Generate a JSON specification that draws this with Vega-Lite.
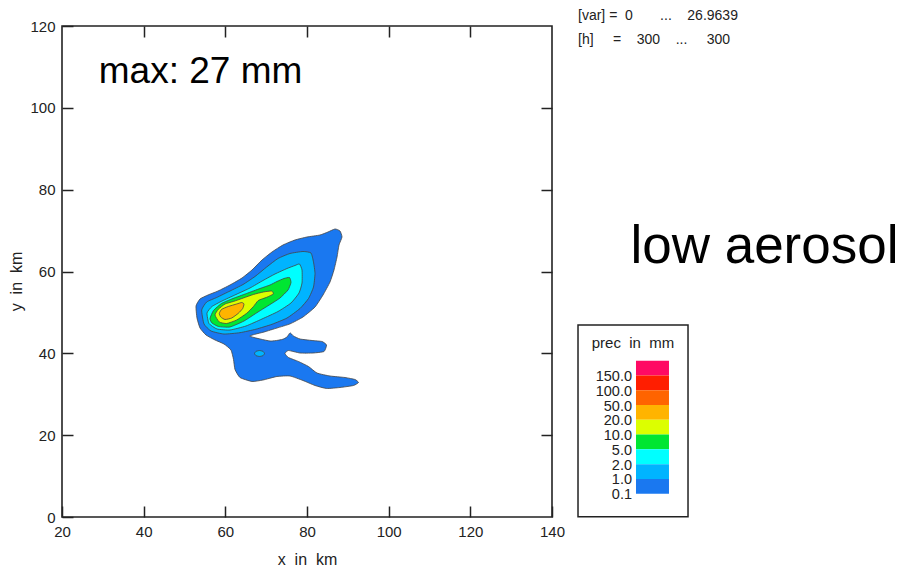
{
  "$schema": "https://vega.github.io/schema/vega-lite/v6.json",
  "width": 490,
  "height": 491,
  "autosize": {"type": "none"},
  "padding": {"left": 62, "top": 26, "right": 350, "bottom": 54},
  "background": "white",
  "config": {
    "view": {"stroke": "#222", "strokeWidth": 1.6},
    "axis": {
      "domain": false, "grid": false, "labelFlush": false, "labelOverlap": false,
      "labelFont": "Liberation Sans", "labelFontSize": 15, "labelColor": "#222",
      "titleFont": "Liberation Sans", "titleFontSize": 16, "titleFontWeight": "normal", "titleColor": "#222",
      "tickColor": "#222", "tickWidth": 1.5, "tickSize": -11
    },
    "text": {"font": "Liberation Sans", "color": "#111"}
  },
  "datasets": {
    "contours": [
      {"poly":"a","level":"0.1","i":0,"x":52.82,"y":51.57},
      {"poly":"a","level":"0.1","i":1,"x":53.80,"y":53.28},
      {"poly":"a","level":"0.1","i":2,"x":55.76,"y":54.26},
      {"poly":"a","level":"0.1","i":3,"x":58.20,"y":55.23},
      {"poly":"a","level":"0.1","i":4,"x":61.14,"y":56.70},
      {"poly":"a","level":"0.1","i":5,"x":64.08,"y":58.41},
      {"poly":"a","level":"0.1","i":6,"x":66.53,"y":60.37},
      {"poly":"a","level":"0.1","i":7,"x":68.98,"y":62.81},
      {"poly":"a","level":"0.1","i":8,"x":71.43,"y":64.77},
      {"poly":"a","level":"0.1","i":9,"x":74.12,"y":66.48},
      {"poly":"a","level":"0.1","i":10,"x":77.06,"y":67.70},
      {"poly":"a","level":"0.1","i":11,"x":80.00,"y":68.43},
      {"poly":"a","level":"0.1","i":12,"x":83.18,"y":68.92},
      {"poly":"a","level":"0.1","i":13,"x":85.14,"y":69.65},
      {"poly":"a","level":"0.1","i":14,"x":86.86,"y":70.39},
      {"poly":"a","level":"0.1","i":15,"x":88.08,"y":69.90},
      {"poly":"a","level":"0.1","i":16,"x":88.57,"y":68.43},
      {"poly":"a","level":"0.1","i":17,"x":87.84,"y":66.48},
      {"poly":"a","level":"0.1","i":18,"x":87.35,"y":63.54},
      {"poly":"a","level":"0.1","i":19,"x":86.61,"y":60.37},
      {"poly":"a","level":"0.1","i":20,"x":85.63,"y":57.43},
      {"poly":"a","level":"0.1","i":21,"x":83.92,"y":54.26},
      {"poly":"a","level":"0.1","i":22,"x":81.96,"y":51.32},
      {"poly":"a","level":"0.1","i":23,"x":79.02,"y":48.88},
      {"poly":"a","level":"0.1","i":24,"x":75.84,"y":47.20},
      {"poly":"a","level":"0.1","i":25,"x":72.65,"y":46.19},
      {"poly":"a","level":"0.1","i":26,"x":69.47,"y":45.21},
      {"poly":"a","level":"0.1","i":27,"x":66.00,"y":44.20},
      {"poly":"a","level":"0.1","i":28,"x":70.94,"y":43.01},
      {"poly":"a","level":"0.1","i":29,"x":73.88,"y":43.38},
      {"poly":"a","level":"0.1","i":30,"x":75.10,"y":43.99},
      {"poly":"a","level":"0.1","i":31,"x":75.84,"y":45.00},
      {"poly":"a","level":"0.1","i":32,"x":76.69,"y":44.24},
      {"poly":"a","level":"0.1","i":33,"x":78.29,"y":43.50},
      {"poly":"a","level":"0.1","i":34,"x":81.22,"y":43.14},
      {"poly":"a","level":"0.1","i":35,"x":83.67,"y":42.89},
      {"poly":"a","level":"0.1","i":36,"x":84.78,"y":42.04},
      {"poly":"a","level":"0.1","i":37,"x":84.16,"y":40.45},
      {"poly":"a","level":"0.1","i":38,"x":81.47,"y":40.08},
      {"poly":"a","level":"0.1","i":39,"x":78.29,"y":40.08},
      {"poly":"a","level":"0.1","i":40,"x":75.47,"y":40.69},
      {"poly":"a","level":"0.1","i":41,"x":74.61,"y":39.96},
      {"poly":"a","level":"0.1","i":42,"x":75.47,"y":38.98},
      {"poly":"a","level":"0.1","i":43,"x":77.92,"y":38.00},
      {"poly":"a","level":"0.1","i":44,"x":80.37,"y":36.78},
      {"poly":"a","level":"0.1","i":45,"x":82.45,"y":35.19},
      {"poly":"a","level":"0.1","i":46,"x":85.63,"y":34.46},
      {"poly":"a","level":"0.1","i":47,"x":89.31,"y":34.09},
      {"poly":"a","level":"0.1","i":48,"x":91.76,"y":33.60},
      {"poly":"a","level":"0.1","i":49,"x":92.61,"y":32.87},
      {"poly":"a","level":"0.1","i":50,"x":91.39,"y":32.14},
      {"poly":"a","level":"0.1","i":51,"x":88.08,"y":31.65},
      {"poly":"a","level":"0.1","i":52,"x":84.78,"y":31.41},
      {"poly":"a","level":"0.1","i":53,"x":81.96,"y":32.14},
      {"poly":"a","level":"0.1","i":54,"x":79.02,"y":33.36},
      {"poly":"a","level":"0.1","i":55,"x":75.84,"y":34.46},
      {"poly":"a","level":"0.1","i":56,"x":72.65,"y":34.34},
      {"poly":"a","level":"0.1","i":57,"x":69.22,"y":33.48},
      {"poly":"a","level":"0.1","i":58,"x":66.53,"y":33.12},
      {"poly":"a","level":"0.1","i":59,"x":63.59,"y":34.09},
      {"poly":"a","level":"0.1","i":60,"x":62.37,"y":36.05},
      {"poly":"a","level":"0.1","i":61,"x":62.00,"y":38.49},
      {"poly":"a","level":"0.1","i":62,"x":61.39,"y":40.81},
      {"poly":"a","level":"0.1","i":63,"x":59.67,"y":42.28},
      {"poly":"a","level":"0.1","i":64,"x":57.47,"y":43.26},
      {"poly":"a","level":"0.1","i":65,"x":55.27,"y":44.48},
      {"poly":"a","level":"0.1","i":66,"x":53.80,"y":46.19},
      {"poly":"a","level":"0.1","i":67,"x":53.06,"y":48.63},

      {"poly":"dot","level":"1.0","i":0,"x":69.59,"y":39.96},
      {"poly":"dot","level":"1.0","i":1,"x":69.23,"y":40.48},
      {"poly":"dot","level":"1.0","i":2,"x":68.37,"y":40.69},
      {"poly":"dot","level":"1.0","i":3,"x":67.51,"y":40.48},
      {"poly":"dot","level":"1.0","i":4,"x":67.15,"y":39.96},
      {"poly":"dot","level":"1.0","i":5,"x":67.51,"y":39.44},
      {"poly":"dot","level":"1.0","i":6,"x":68.37,"y":39.23},
      {"poly":"dot","level":"1.0","i":7,"x":69.23,"y":39.44},

      {"poly":"b","level":"1.0","i":0,"x":54.21,"y":50.59},
      {"poly":"b","level":"1.0","i":1,"x":55.44,"y":52.55},
      {"poly":"b","level":"1.0","i":2,"x":57.89,"y":53.65},
      {"poly":"b","level":"1.0","i":3,"x":61.14,"y":55.23},
      {"poly":"b","level":"1.0","i":4,"x":64.33,"y":56.82},
      {"poly":"b","level":"1.0","i":5,"x":67.27,"y":58.78},
      {"poly":"b","level":"1.0","i":6,"x":70.13,"y":61.10},
      {"poly":"b","level":"1.0","i":7,"x":72.90,"y":63.18},
      {"poly":"b","level":"1.0","i":8,"x":75.84,"y":64.40},
      {"poly":"b","level":"1.0","i":9,"x":79.02,"y":64.89},
      {"poly":"b","level":"1.0","i":10,"x":80.98,"y":64.52},
      {"poly":"b","level":"1.0","i":11,"x":81.59,"y":62.32},
      {"poly":"b","level":"1.0","i":12,"x":81.96,"y":59.51},
      {"poly":"b","level":"1.0","i":13,"x":81.59,"y":56.21},
      {"poly":"b","level":"1.0","i":14,"x":80.37,"y":53.40},
      {"poly":"b","level":"1.0","i":15,"x":78.29,"y":50.96},
      {"poly":"b","level":"1.0","i":16,"x":75.10,"y":48.63},
      {"poly":"b","level":"1.0","i":17,"x":71.43,"y":47.10},
      {"poly":"b","level":"1.0","i":18,"x":67.51,"y":45.90},
      {"poly":"b","level":"1.0","i":19,"x":63.59,"y":45.05},
      {"poly":"b","level":"1.0","i":20,"x":59.67,"y":44.72},
      {"poly":"b","level":"1.0","i":21,"x":56.49,"y":45.46},
      {"poly":"b","level":"1.0","i":22,"x":54.78,"y":47.17},

      {"poly":"c","level":"2.0","i":0,"x":55.51,"y":49.86},
      {"poly":"c","level":"2.0","i":1,"x":56.73,"y":51.45},
      {"poly":"c","level":"2.0","i":2,"x":59.18,"y":52.79},
      {"poly":"c","level":"2.0","i":3,"x":62.61,"y":54.38},
      {"poly":"c","level":"2.0","i":4,"x":66.04,"y":55.97},
      {"poly":"c","level":"2.0","i":5,"x":69.22,"y":57.80},
      {"poly":"c","level":"2.0","i":6,"x":72.16,"y":59.39},
      {"poly":"c","level":"2.0","i":7,"x":75.10,"y":60.73},
      {"poly":"c","level":"2.0","i":8,"x":77.06,"y":61.47},
      {"poly":"c","level":"2.0","i":9,"x":78.16,"y":61.83},
      {"poly":"c","level":"2.0","i":10,"x":78.78,"y":60.37},
      {"poly":"c","level":"2.0","i":11,"x":78.78,"y":57.19},
      {"poly":"c","level":"2.0","i":12,"x":78.04,"y":54.74},
      {"poly":"c","level":"2.0","i":13,"x":76.08,"y":52.30},
      {"poly":"c","level":"2.0","i":14,"x":72.90,"y":50.22},
      {"poly":"c","level":"2.0","i":15,"x":68.98,"y":48.39},
      {"poly":"c","level":"2.0","i":16,"x":65.06,"y":46.68},
      {"poly":"c","level":"2.0","i":17,"x":61.14,"y":45.70},
      {"poly":"c","level":"2.0","i":18,"x":57.96,"y":45.95},
      {"poly":"c","level":"2.0","i":19,"x":56.00,"y":47.29},

      {"poly":"d","level":"5.0","i":0,"x":56.24,"y":48.51},
      {"poly":"d","level":"5.0","i":1,"x":57.10,"y":50.47},
      {"poly":"d","level":"5.0","i":2,"x":59.06,"y":52.18},
      {"poly":"d","level":"5.0","i":3,"x":61.88,"y":53.40},
      {"poly":"d","level":"5.0","i":4,"x":65.18,"y":54.62},
      {"poly":"d","level":"5.0","i":5,"x":68.49,"y":55.84},
      {"poly":"d","level":"5.0","i":6,"x":70.94,"y":56.70},
      {"poly":"d","level":"5.0","i":7,"x":72.65,"y":57.56},
      {"poly":"d","level":"5.0","i":8,"x":74.37,"y":58.29},
      {"poly":"d","level":"5.0","i":9,"x":75.71,"y":58.53},
      {"poly":"d","level":"5.0","i":10,"x":76.08,"y":57.31},
      {"poly":"d","level":"5.0","i":11,"x":75.35,"y":55.48},
      {"poly":"d","level":"5.0","i":12,"x":73.39,"y":53.52},
      {"poly":"d","level":"5.0","i":13,"x":70.94,"y":51.93},
      {"poly":"d","level":"5.0","i":14,"x":68.00,"y":50.10},
      {"poly":"d","level":"5.0","i":15,"x":64.57,"y":47.90},
      {"poly":"d","level":"5.0","i":16,"x":61.14,"y":46.44},
      {"poly":"d","level":"5.0","i":17,"x":58.33,"y":46.56},
      {"poly":"d","level":"5.0","i":18,"x":56.73,"y":47.41},

      {"poly":"e","level":"10.0","i":0,"x":57.47,"y":49.37},
      {"poly":"e","level":"10.0","i":1,"x":58.28,"y":50.76},
      {"poly":"e","level":"10.0","i":2,"x":59.92,"y":52.06},
      {"poly":"e","level":"10.0","i":3,"x":61.95,"y":52.67},
      {"poly":"e","level":"10.0","i":4,"x":64.40,"y":53.52},
      {"poly":"e","level":"10.0","i":5,"x":66.85,"y":54.38},
      {"poly":"e","level":"10.0","i":6,"x":69.30,"y":54.99},
      {"poly":"e","level":"10.0","i":7,"x":71.36,"y":55.23},
      {"poly":"e","level":"10.0","i":8,"x":71.75,"y":54.50},
      {"poly":"e","level":"10.0","i":9,"x":70.13,"y":53.69},
      {"poly":"e","level":"10.0","i":10,"x":68.07,"y":52.91},
      {"poly":"e","level":"10.0","i":11,"x":66.85,"y":51.40},
      {"poly":"e","level":"10.0","i":12,"x":65.23,"y":49.78},
      {"poly":"e","level":"10.0","i":13,"x":62.78,"y":48.15},
      {"poly":"e","level":"10.0","i":14,"x":60.33,"y":47.29},
      {"poly":"e","level":"10.0","i":15,"x":58.52,"y":47.66},

      {"poly":"f","level":"20.0","i":0,"x":58.52,"y":49.78},
      {"poly":"f","level":"20.0","i":1,"x":59.11,"y":50.76},
      {"poly":"f","level":"20.0","i":2,"x":60.73,"y":51.45},
      {"poly":"f","level":"20.0","i":3,"x":62.78,"y":52.06},
      {"poly":"f","level":"20.0","i":4,"x":64.01,"y":52.42},
      {"poly":"f","level":"20.0","i":5,"x":64.57,"y":52.06},
      {"poly":"f","level":"20.0","i":6,"x":64.25,"y":50.96},
      {"poly":"f","level":"20.0","i":7,"x":63.18,"y":49.78},
      {"poly":"f","level":"20.0","i":8,"x":61.56,"y":48.63},
      {"poly":"f","level":"20.0","i":9,"x":59.92,"y":48.27},
      {"poly":"f","level":"20.0","i":10,"x":58.87,"y":48.88}
    ],
    "legend": [
      {"level":"150.0"},{"level":"100.0"},{"level":"50.0"},{"level":"20.0"},{"level":"10.0"},
      {"level":"5.0"},{"level":"2.0"},{"level":"1.0"},{"level":"0.1"}
    ]
  },
  "resolve": {"scale": {"x": "independent", "y": "independent"}},
  "layer": [
    {
      "data": {"name": "contours"},
      "transform": [{"filter": "datum.level === '0.1'"}],
      "mark": {"type": "line", "interpolate": "cardinal-closed", "tension": 0.5, "stroke": "#444", "strokeWidth": 0.8},
      "encoding": {
        "x": {"field": "x", "type": "quantitative", "scale": {"domain": [20, 140], "nice": false, "zero": false},
              "axis": {"orient": "bottom", "values": [20, 40, 60, 80, 100, 120, 140], "title": "x\u00a0\u00a0in\u00a0\u00a0km", "labelPadding": 18, "titlePadding": 12}},
        "y": {"field": "y", "type": "quantitative", "scale": {"domain": [0, 120], "nice": false, "zero": false},
              "axis": {"orient": "left", "values": [0, 20, 40, 60, 80, 100, 120], "title": "y\u00a0\u00a0in\u00a0\u00a0km", "labelPadding": 18, "titlePadding": 5, "titleY": 255}},
        "detail": {"field": "poly"},
        "order": {"field": "i", "type": "quantitative"},
        "fill": {"field": "level", "type": "ordinal", "legend": null,
                 "scale": {"domain": ["0.1","1.0","2.0","5.0","10.0","20.0","50.0","100.0","150.0"],
                           "range": ["#1a78f0","#00b4ff","#00ffff","#00e632","#dcff00","#ffb400","#ff6400","#ff1e00","#ff0a64"]}}
      }
    },
    {
      "data": {"name": "contours"},
      "transform": [{"filter": "datum.level === '1.0'"}],
      "mark": {"type": "line", "interpolate": "cardinal-closed", "tension": 0.5, "stroke": "#444", "strokeWidth": 0.8},
      "encoding": {
        "x": {"field": "x", "type": "quantitative", "scale": {"domain": [20, 140], "nice": false, "zero": false},
              "axis": {"orient": "top", "values": [40, 60, 80, 100, 120], "labels": false, "title": null}},
        "y": {"field": "y", "type": "quantitative", "scale": {"domain": [0, 120], "nice": false, "zero": false},
              "axis": {"orient": "right", "values": [20, 40, 60, 80, 100], "labels": false, "title": null}},
        "detail": {"field": "poly"},
        "order": {"field": "i", "type": "quantitative"},
        "fill": {"field": "level", "type": "ordinal", "legend": null}
      }
    },
    {
      "data": {"name": "contours"},
      "transform": [{"filter": "datum.level === '2.0'"}],
      "mark": {"type": "line", "interpolate": "cardinal-closed", "tension": 0.5, "stroke": "#444", "strokeWidth": 0.8},
      "encoding": {
        "x": {"field": "x", "type": "quantitative", "scale": {"domain": [20, 140], "nice": false, "zero": false}, "axis": null},
        "y": {"field": "y", "type": "quantitative", "scale": {"domain": [0, 120], "nice": false, "zero": false}, "axis": null},
        "detail": {"field": "poly"},
        "order": {"field": "i", "type": "quantitative"},
        "fill": {"field": "level", "type": "ordinal", "legend": null}
      }
    },
    {
      "data": {"name": "contours"},
      "transform": [{"filter": "datum.level === '5.0'"}],
      "mark": {"type": "line", "interpolate": "cardinal-closed", "tension": 0.5, "stroke": "#444", "strokeWidth": 0.8},
      "encoding": {
        "x": {"field": "x", "type": "quantitative", "scale": {"domain": [20, 140], "nice": false, "zero": false}, "axis": null},
        "y": {"field": "y", "type": "quantitative", "scale": {"domain": [0, 120], "nice": false, "zero": false}, "axis": null},
        "detail": {"field": "poly"},
        "order": {"field": "i", "type": "quantitative"},
        "fill": {"field": "level", "type": "ordinal", "legend": null}
      }
    },
    {
      "data": {"name": "contours"},
      "transform": [{"filter": "datum.level === '10.0'"}],
      "mark": {"type": "line", "interpolate": "cardinal-closed", "tension": 0.5, "stroke": "#444", "strokeWidth": 0.8},
      "encoding": {
        "x": {"field": "x", "type": "quantitative", "scale": {"domain": [20, 140], "nice": false, "zero": false}, "axis": null},
        "y": {"field": "y", "type": "quantitative", "scale": {"domain": [0, 120], "nice": false, "zero": false}, "axis": null},
        "detail": {"field": "poly"},
        "order": {"field": "i", "type": "quantitative"},
        "fill": {"field": "level", "type": "ordinal", "legend": null}
      }
    },
    {
      "data": {"name": "contours"},
      "transform": [{"filter": "datum.level === '20.0'"}],
      "mark": {"type": "line", "interpolate": "cardinal-closed", "tension": 0.5, "stroke": "#444", "strokeWidth": 0.8},
      "encoding": {
        "x": {"field": "x", "type": "quantitative", "scale": {"domain": [20, 140], "nice": false, "zero": false}, "axis": null},
        "y": {"field": "y", "type": "quantitative", "scale": {"domain": [0, 120], "nice": false, "zero": false}, "axis": null},
        "detail": {"field": "poly"},
        "order": {"field": "i", "type": "quantitative"},
        "fill": {"field": "level", "type": "ordinal", "legend": null}
      }
    },
    {
      "data": {"values": [{}]},
      "mark": {"type": "rect", "fill": "white", "stroke": "#222", "strokeWidth": 1.5},
      "encoding": {
        "x": {"datum": 146.37, "type": "quantitative", "scale": {"domain": [20, 140], "nice": false, "zero": false}, "axis": null},
        "x2": {"datum": 173.31},
        "y": {"datum": 46.92, "type": "quantitative", "scale": {"domain": [0, 120], "nice": false, "zero": false}, "axis": null},
        "y2": {"datum": 0.07}
      }
    },
    {
      "data": {"name": "legend"},
      "mark": {"type": "rect"},
      "encoding": {
        "x": {"datum": 160.57, "type": "quantitative", "scale": {"domain": [20, 140], "nice": false, "zero": false}, "axis": null},
        "x2": {"datum": 168.65},
        "y": {"field": "level", "type": "ordinal", "sort": null, "axis": null,
              "scale": {"type": "band", "range": [334.7, 467.7], "paddingInner": 0, "paddingOuter": 0}},
        "fill": {"field": "level", "type": "ordinal", "legend": null}
      }
    },
    {
      "data": {"name": "legend"},
      "mark": {"type": "text", "align": "right", "baseline": "middle", "fontSize": 14.5, "color": "#222"},
      "encoding": {
        "x": {"datum": 159.59, "type": "quantitative", "scale": {"domain": [20, 140], "nice": false, "zero": false}, "axis": null},
        "y": {"field": "level", "type": "ordinal", "sort": null, "axis": null,
              "scale": {"type": "point", "range": [351, 469], "padding": 0}},
        "text": {"field": "level"}
      }
    },
    {
      "data": {"values": [{}]},
      "mark": {"type": "text", "text": "prec\u00a0\u00a0in\u00a0\u00a0mm", "align": "center", "baseline": "middle", "fontSize": 15, "color": "#222"},
      "encoding": {
        "x": {"datum": 159.84, "type": "quantitative", "scale": {"domain": [20, 140], "nice": false, "zero": false}, "axis": null},
        "y": {"datum": 42.53, "type": "quantitative", "scale": {"domain": [0, 120], "nice": false, "zero": false}, "axis": null}
      }
    },
    {
      "data": {"values": [{}]},
      "mark": {"type": "text", "text": "max: 27 mm", "align": "left", "baseline": "alphabetic", "fontSize": 37, "color": "#000"},
      "encoding": {
        "x": {"datum": 29.0, "type": "quantitative", "scale": {"domain": [20, 140], "nice": false, "zero": false}, "axis": null},
        "y": {"datum": 106.14, "type": "quantitative", "scale": {"domain": [0, 120], "nice": false, "zero": false}, "axis": null}
      }
    },
    {
      "data": {"values": [{}]},
      "mark": {"type": "text", "text": "low aerosol", "align": "left", "baseline": "alphabetic", "fontSize": 53, "color": "#000"},
      "encoding": {
        "x": {"datum": 159.2, "type": "quantitative", "scale": {"domain": [20, 140], "nice": false, "zero": false}, "axis": null},
        "y": {"datum": 62.08, "type": "quantitative", "scale": {"domain": [0, 120], "nice": false, "zero": false}, "axis": null}
      }
    },
    {
      "data": {"values": [{}]},
      "mark": {"type": "text", "text": "[var] = \u00a00\u00a0\u00a0\u00a0\u00a0\u00a0\u00a0\u00a0...\u00a0\u00a0\u00a0\u00a026.9639", "align": "left", "baseline": "middle", "fontSize": 14, "color": "#222"},
      "encoding": {
        "x": {"datum": 146.37, "type": "quantitative", "scale": {"domain": [20, 140], "nice": false, "zero": false}, "axis": null},
        "y": {"datum": 122.44, "type": "quantitative", "scale": {"domain": [0, 120], "nice": false, "zero": false}, "axis": null}
      }
    },
    {
      "data": {"values": [{}]},
      "mark": {"type": "text", "text": "[h]\u00a0\u00a0\u00a0\u00a0\u00a0=\u00a0\u00a0\u00a0\u00a0300\u00a0\u00a0\u00a0\u00a0...\u00a0\u00a0\u00a0\u00a0\u00a0300", "align": "left", "baseline": "middle", "fontSize": 14, "color": "#222"},
      "encoding": {
        "x": {"datum": 146.37, "type": "quantitative", "scale": {"domain": [20, 140], "nice": false, "zero": false}, "axis": null},
        "y": {"datum": 116.58, "type": "quantitative", "scale": {"domain": [0, 120], "nice": false, "zero": false}, "axis": null}
      }
    }
  ]
}
